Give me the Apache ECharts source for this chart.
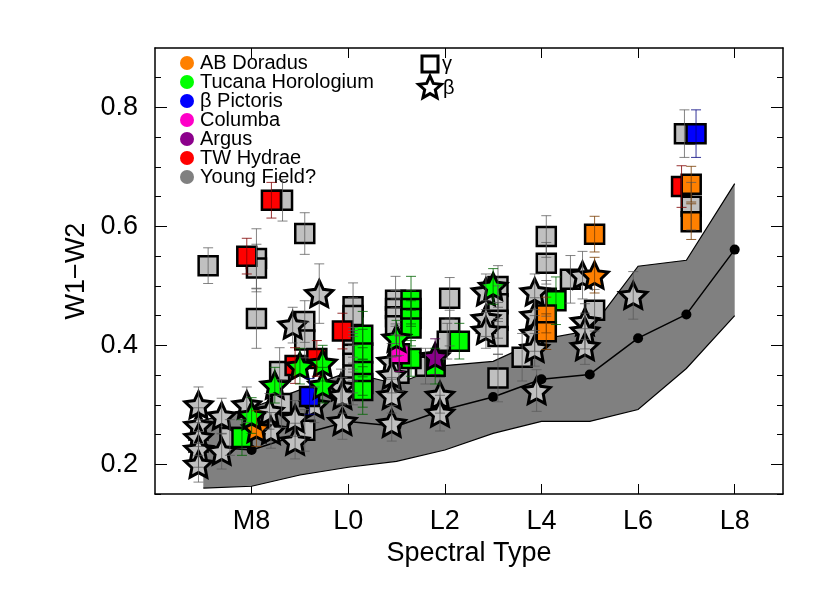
<!DOCTYPE html>
<html>
<head>
<meta charset="utf-8">
<title>W1-W2 vs Spectral Type</title>
<script src="https://cdn.jsdelivr.net/npm/echarts@6/dist/echarts.min.js"></script>
<style>
html, body { margin: 0; padding: 0; background: #fff; }
#chart { width: 830px; height: 593px; }
</style>
</head>
<body>
<div id="chart"></div>
<script>
// spectral type as a number: M7 = 7, M8 = 8, M9 = 9, L0 = 10, L1 = 11 ...
const xTicks = [8, 10, 12, 14, 16, 18]
const yMajor = [0.2, 0.4, 0.6, 0.8]
const yMinor = [0.15, 0.25, 0.3, 0.35, 0.45, 0.5, 0.55, 0.65, 0.7, 0.75, 0.85]

// field dwarfs: mean colour and spread per subtype
const bandSpt = [7, 8, 9, 10, 11, 12, 13, 14, 15, 16, 17, 18]
const bandMean = [0.23, 0.224, 0.25, 0.272, 0.264, 0.292, 0.313, 0.343, 0.351, 0.412, 0.452, 0.561]
const bandLow = [0.16, 0.163, 0.182, 0.195, 0.205, 0.224, 0.252, 0.272, 0.272, 0.292, 0.361, 0.45]
const bandHigh = [0.274, 0.295, 0.325, 0.355, 0.335, 0.366, 0.373, 0.41, 0.425, 0.533, 0.543, 0.672]

// [spectral type, W1-W2, error]
const fieldGamma = [
  [7.1, 0.534, 0.03], [7.55, 0.245, 0.03], [8.1, 0.546, 0.05], [8.1, 0.53, 0.04], [8.1, 0.445, 0.05],
  [8.64, 0.644, 0.035], [9.1, 0.588, 0.035], [9.1, 0.44, 0.035], [9.1, 0.409, 0.03], [9.1, 0.257, 0.035],
  [8.58, 0.356, 0.04], [8.62, 0.302, 0.04],
  [10.1, 0.465, 0.04], [10.1, 0.45, 0.03], [10.1, 0.4, 0.03], [10.1, 0.385, 0.03], [10.1, 0.37, 0.03],
  [10.1, 0.35, 0.03], [10.1, 0.33, 0.03],
  [10.98, 0.476, 0.04], [10.98, 0.462, 0.03], [10.98, 0.448, 0.03], [10.98, 0.433, 0.03], [11.05, 0.353, 0.03],
  [11.6, 0.365, 0.03], [12.1, 0.479, 0.035], [12.1, 0.429, 0.03], [12.05, 0.407, 0.03],
  [13.1, 0.499, 0.035], [13.1, 0.47, 0.03], [13.1, 0.442, 0.03], [13.1, 0.415, 0.03], [13.1, 0.345, 0.04],
  [13.6, 0.38, 0.04], [14.1, 0.583, 0.035], [14.1, 0.538, 0.035], [14.1, 0.479, 0.03],
  [14.6, 0.511, 0.04], [15.1, 0.459, 0.035], [16.96, 0.756, 0.04], [17.1, 0.634, 0.04]
]
const fieldBeta = [
  [6.9, 0.3, 0.03], [6.9, 0.265, 0.03], [6.9, 0.245, 0.03], [6.9, 0.225, 0.03], [6.9, 0.2, 0.03],
  [7.38, 0.281, 0.03], [7.38, 0.222, 0.03], [7.9, 0.3, 0.03], [8.37, 0.289, 0.03], [8.4, 0.257, 0.03],
  [8.9, 0.277, 0.03], [8.9, 0.239, 0.03], [8.85, 0.434, 0.03], [9.4, 0.487, 0.05], [9.3, 0.3, 0.03],
  [9.85, 0.33, 0.03], [9.88, 0.316, 0.03], [9.88, 0.272, 0.03],
  [10.9, 0.373, 0.03], [10.9, 0.35, 0.03], [10.9, 0.316, 0.03], [10.9, 0.269, 0.03],
  [11.9, 0.316, 0.03], [11.9, 0.286, 0.03],
  [12.85, 0.49, 0.03], [12.85, 0.445, 0.03], [12.85, 0.425, 0.03],
  [13.86, 0.49, 0.03], [13.86, 0.45, 0.03], [13.86, 0.42, 0.03], [13.86, 0.395, 0.03], [13.9, 0.324, 0.035],
  [14.85, 0.518, 0.04], [14.9, 0.44, 0.03], [14.9, 0.424, 0.03], [14.9, 0.398, 0.03], [15.9, 0.484, 0.04]
]
const abDorGamma = [[17.1, 0.671, 0.03], [17.1, 0.608, 0.03], [15.1, 0.587, 0.03], [14.1, 0.451, 0.03], [14.1, 0.423, 0.03]]
const abDorBeta = [[15.1, 0.518, 0.03], [8.1, 0.26, 0.03]]
const tucHorGamma = [
  [7.8, 0.245, 0.03], [10.3, 0.417, 0.04], [10.3, 0.387, 0.04], [10.3, 0.356, 0.04], [10.3, 0.336, 0.04],
  [10.3, 0.324, 0.04], [11.3, 0.476, 0.04], [11.3, 0.462, 0.03], [11.3, 0.445, 0.03], [11.3, 0.429, 0.03],
  [11.3, 0.378, 0.03], [11.8, 0.365, 0.03], [12.3, 0.407, 0.03], [14.3, 0.475, 0.04]
]
const tucHorBeta = [[8.0, 0.282, 0.03], [8.48, 0.333, 0.03], [9.0, 0.365, 0.03], [9.47, 0.37, 0.03],
  [9.47, 0.333, 0.03], [11.0, 0.412, 0.03], [13.0, 0.499, 0.03]]
const betaPicGamma = [[17.2, 0.756, 0.04], [9.2, 0.314, 0.03]]
const columbaGamma = [[11.06, 0.386, 0.03]]
const argusBeta = [[11.8, 0.381, 0.03]]
const twHyaGamma = [[8.41, 0.644, 0.03], [7.9, 0.55, 0.03], [8.9, 0.366, 0.03], [9.35, 0.378, 0.03],
  [9.88, 0.424, 0.03], [16.9, 0.667, 0.035]]

const legendNames = ['AB Doradus', 'Tucana Horologium', 'β Pictoris', 'Columba', 'Argus', 'TW Hydrae', 'Young Field?']
const legendColors = ['#ff8000', '#00ff00', '#0000ff', '#ff00c8', '#8c008c', '#ff0000', '#808080']

const font = 'Liberation Sans, Arial, sans-serif'

function starPoints(cx, cy, R, r) {
  const pts = []
  for (let i = 0; i < 10; i++) {
    const a = -Math.PI / 2 + i * Math.PI / 5
    const rad = i % 2 === 0 ? R : r
    pts.push([cx + rad * Math.cos(a), cy + rad * Math.sin(a)])
  }
  return pts
}
const starSymbol = 'path://' + starPoints(10, 10, 10, 4.9)
  .map((p, i) => (i === 0 ? 'M' : 'L') + p[0].toFixed(2) + ' ' + p[1].toFixed(2)).join(' ') + ' Z'

function errorBars(data, color) {
  return {
    type: 'custom',
    z: 6,
    silent: true,
    clip: true,
    data: data,
    renderItem: (params, api) => {
      const x = api.value(0)
      const y = api.value(1)
      const e = api.value(2)
      const top = api.coord([x, y + e])
      const bot = api.coord([x, y - e])
      const st = { stroke: color, lineWidth: 1 }
      return {
        type: 'group',
        children: [
          { type: 'line', shape: { x1: top[0], y1: top[1], x2: bot[0], y2: bot[1] }, style: st },
          { type: 'line', shape: { x1: top[0] - 5, y1: top[1], x2: top[0] + 5, y2: top[1] }, style: st },
          { type: 'line', shape: { x1: bot[0] - 5, y1: bot[1], x2: bot[0] + 5, y2: bot[1] }, style: st }
        ]
      }
    }
  }
}

function markers(data, shape, fill, z) {
  const star = shape === 'star'
  return {
    type: 'scatter',
    z: z,
    silent: true,
    symbol: star ? starSymbol : 'rect',
    symbolKeepAspect: true,
    symbolSize: star ? 27 : 19,
    itemStyle: { color: fill, borderColor: '#000', borderWidth: star ? 3 : 2.5, opacity: 1 },
    data: data.map(d => [d[0], d[1]])
  }
}

const series = [
  // field spread band
  {
    type: 'custom',
    z: 1,
    silent: true,
    data: [[12, 0.4]],
    renderItem: (params, api) => {
      const hi = bandSpt.map((s, i) => api.coord([s, bandHigh[i]]))
      const lo = bandSpt.map((s, i) => api.coord([s, bandLow[i]]))
      return {
        type: 'group',
        children: [
          { type: 'polygon', shape: { points: hi.concat(lo.slice().reverse()) }, style: { fill: '#808080' } },
          { type: 'polyline', shape: { points: hi }, style: { stroke: '#000', lineWidth: 1.2, fill: null } },
          { type: 'polyline', shape: { points: lo }, style: { stroke: '#000', lineWidth: 1.2, fill: null } }
        ]
      }
    }
  },
  {
    type: 'line',
    z: 2,
    silent: true,
    data: bandSpt.map((s, i) => [s, bandMean[i]]),
    symbol: 'circle',
    symbolSize: 10,
    showSymbol: true,
    lineStyle: { color: '#000', width: 1.5 },
    itemStyle: { color: '#000' }
  },
  markers(fieldGamma, 'square', '#c0c0c0', 3),
  markers(fieldBeta, 'star', '#c0c0c0', 3),
  markers(twHyaGamma, 'square', '#ff0000', 4),
  markers(tucHorGamma, 'square', '#00ff00', 4),
  markers(abDorGamma, 'square', '#ff8000', 4),
  markers(betaPicGamma, 'square', '#0000ff', 4),
  markers(columbaGamma, 'square', '#ff00c8', 4),
  markers(abDorBeta, 'star', '#ff8000', 5),
  markers(tucHorBeta, 'star', '#00ff00', 5),
  markers(argusBeta, 'star', '#8c008c', 5),
  errorBars(fieldGamma, 'rgba(90,90,90,0.75)'),
  errorBars(fieldBeta, 'rgba(90,90,90,0.75)'),
  errorBars(twHyaGamma, 'rgba(128,0,0,0.8)'),
  errorBars(tucHorGamma, 'rgba(0,100,0,0.8)'),
  errorBars(tucHorBeta, 'rgba(0,100,0,0.8)'),
  errorBars(abDorGamma, 'rgba(120,60,0,0.8)'),
  errorBars(abDorBeta, 'rgba(120,60,0,0.8)'),
  errorBars(betaPicGamma, 'rgba(0,0,128,0.8)'),
  errorBars(columbaGamma, 'rgba(128,0,100,0.8)'),
  errorBars(argusBeta, 'rgba(80,0,80,0.8)')
]

// legend drawn by hand: colours for groups, shapes for gravity class
const legend = []
legendNames.forEach((n, i) => {
  const y = 63 + i * 19
  legend.push({ type: 'circle', shape: { cx: 187, cy: y, r: 7 }, style: { fill: legendColors[i] } })
  legend.push({ type: 'text', x: 200, y: y, style: { text: n, font: '20px ' + font, fill: '#000', verticalAlign: 'middle' } })
})
legend.push({ type: 'rect', shape: { x: 422, y: 56, width: 16, height: 16 }, style: { fill: '#fff', stroke: '#000', lineWidth: 3 } })
legend.push({ type: 'text', x: 442, y: 64, style: { text: 'γ', font: '20px ' + font, fill: '#000', verticalAlign: 'middle' } })
legend.push({ type: 'polygon', shape: { points: starPoints(430, 88, 12, 5.6) }, style: { fill: '#fff', stroke: '#000', lineWidth: 3 } })
legend.push({ type: 'text', x: 443, y: 88, style: { text: 'β', font: '20px ' + font, fill: '#000', verticalAlign: 'middle' } })

const yBase = { type: 'value', min: 0.15, max: 0.9, splitLine: { show: false } }
const labelStyle = { color: '#000', fontSize: 27, fontFamily: font }

const option = {
  animation: false,
  grid: { left: 155, right: 47, top: 48, bottom: 99 },
  xAxis: [
    {
      type: 'value',
      min: 6,
      max: 19,
      interval: 2,
      position: 'bottom',
      name: 'Spectral Type',
      nameLocation: 'middle',
      nameGap: 44,
      nameTextStyle: labelStyle,
      splitLine: { show: false },
      axisLine: { lineStyle: { color: '#000', width: 1.5 } },
      axisTick: { inside: true, length: 10, customValues: xTicks, lineStyle: { color: '#000' } },
      axisLabel: Object.assign({
        margin: 14,
        customValues: xTicks,
        formatter: v => (v < 10 ? 'M' + v : 'L' + (v - 10))
      }, labelStyle)
    },
    {
      type: 'value',
      min: 6,
      max: 19,
      interval: 2,
      position: 'top',
      splitLine: { show: false },
      axisLine: { lineStyle: { color: '#000', width: 1.5 } },
      axisTick: { inside: true, length: 10, customValues: xTicks, lineStyle: { color: '#000' } },
      axisLabel: { show: false }
    }
  ],
  yAxis: [
    Object.assign({}, yBase, {
      position: 'left',
      name: 'W1−W2',
      nameLocation: 'middle',
      nameGap: 64,
      nameTextStyle: labelStyle,
      axisLine: { show: true, lineStyle: { color: '#000', width: 1.5 } },
      axisTick: { inside: true, length: 12, customValues: yMajor, lineStyle: { color: '#000' } },
      axisLabel: Object.assign({ margin: 17, customValues: yMajor, formatter: v => v.toFixed(1) }, labelStyle)
    }),
    Object.assign({}, yBase, {
      position: 'left',
      axisLine: { show: false },
      axisTick: { inside: true, length: 6, customValues: yMinor, lineStyle: { color: '#000' } },
      axisLabel: { show: false }
    }),
    Object.assign({}, yBase, {
      position: 'right',
      axisLine: { show: true, lineStyle: { color: '#000', width: 1.5 } },
      axisTick: { inside: true, length: 12, customValues: yMajor, lineStyle: { color: '#000' } },
      axisLabel: { show: false }
    }),
    Object.assign({}, yBase, {
      position: 'right',
      axisLine: { show: false },
      axisTick: { inside: true, length: 6, customValues: yMinor, lineStyle: { color: '#000' } },
      axisLabel: { show: false }
    })
  ],
  graphic: legend,
  series: series
}

const myChart = echarts.init(document.getElementById('chart'))
myChart.setOption(option)
window.addEventListener('resize', () => {
  myChart.resize()
})
</script>
</body>
</html>
